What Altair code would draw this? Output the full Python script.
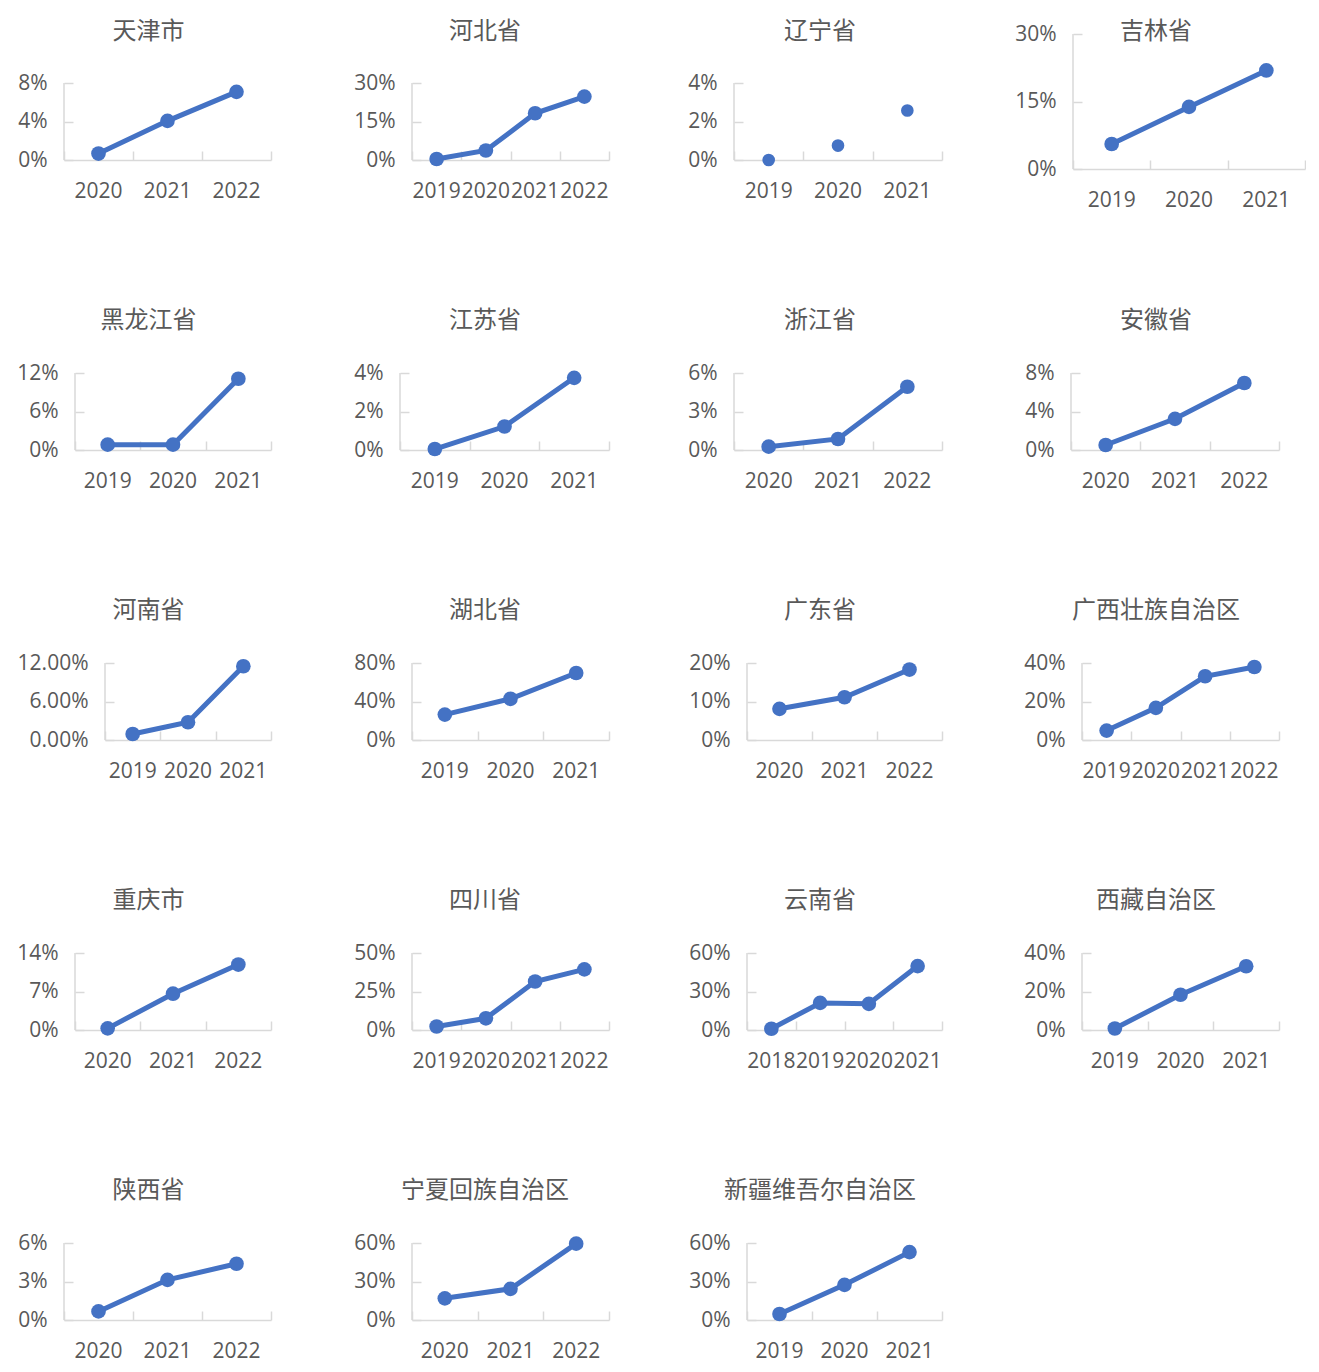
import altair as alt
import pandas as pd

# ---------------- data ----------------
PROVINCES = ["天津市", "河北省", "辽宁省", "吉林省",
             "黑龙江省", "江苏省", "浙江省", "安徽省",
             "河南省", "湖北省", "广东省", "广西壮族自治区",
             "重庆市", "四川省", "云南省", "西藏自治区",
             "陕西省", "宁夏回族自治区", "新疆维吾尔自治区"]

YEARS = [
    ["2020", "2021", "2022"], ["2019", "2020", "2021", "2022"], ["2019", "2020", "2021"], ["2019", "2020", "2021"],
    ["2019", "2020", "2021"], ["2019", "2020", "2021"], ["2020", "2021", "2022"], ["2020", "2021", "2022"],
    ["2019", "2020", "2021"], ["2019", "2020", "2021"], ["2020", "2021", "2022"], ["2019", "2020", "2021", "2022"],
    ["2020", "2021", "2022"], ["2019", "2020", "2021", "2022"], ["2018", "2019", "2020", "2021"], ["2019", "2020", "2021"],
    ["2020", "2021", "2022"], ["2020", "2021", "2022"], ["2019", "2020", "2021"],
]

GROWTH_PCT = [
    [0.67, 4.07, 7.08], [0.4, 3.7, 18.2, 24.7], [0.0, 0.75, 2.57], [5.55, 13.8, 21.9],
    [0.83, 0.83, 11.1], [0.05, 1.22, 3.75], [0.26, 0.86, 4.93], [0.52, 3.24, 6.96],
    [0.94, 2.76, 11.49], [26.4, 42.8, 69.6], [8.1, 11.1, 18.3], [4.9, 16.7, 33.1, 37.9],
    [0.3, 6.6, 11.9], [2.3, 7.6, 31.5, 39.4], [1.0, 21.1, 20.4, 49.8], [0.8, 18.3, 33.1],
    [0.67, 3.13, 4.38], [16.9, 24.3, 59.5], [4.7, 27.4, 52.9],
]

AXIS_TICKS_PCT = [
    [0, 4, 8], [0, 15, 30], [0, 2, 4], [0, 15, 30],
    [0, 6, 12], [0, 2, 4], [0, 3, 6], [0, 4, 8],
    [0, 6, 12], [0, 40, 80], [0, 10, 20], [0, 20, 40],
    [0, 7, 14], [0, 25, 50], [0, 30, 60], [0, 20, 40],
    [0, 3, 6], [0, 30, 60], [0, 30, 60],
]

TICK_FORMAT = [".0%"] * 8 + [".2%"] + [".0%"] * 10
SHOW_LINE = [True, True, False, True] + [True] * 15

# ---------------- layout / style ----------------
ROW_PANELS = [[0, 1, 2, 3], [4, 5, 6, 7], [8, 9, 10, 11], [12, 13, 14, 15], [16, 17, 18]]
PLOT_LEFT = [[64, 412, 734, 1073], [75, 400, 734, 1071], [105, 412, 747, 1082],
             [75, 412, 747, 1082], [64, 412, 747]]
PLOT_RIGHT = [[271, 609, 942, 1305], [271, 609, 942, 1279], [271, 609, 942, 1279],
              [271, 609, 942, 1279], [271, 609, 942]]
TITLE_CX = [148.5, 485, 820, 1156]

FONT_CJK = "Noto Sans CJK SC"
FONT_NUM = "Open Sans"
TEXT = "#595959"
GRID = "#D9D9D9"
BLUE = "#4472C4"
LABEL_SIZE = 21
TITLE_SIZE = 24


def make_panel(idx, width, height, vis_h, left_ext, bottom_ext, dx, toff):
    years = YEARS[idx]
    vals = [v / 100 for v in GROWTH_PCT[idx]]
    ticks = [t / 100 for t in AXIS_TICKS_PCT[idx]]
    top = ticks[-1]
    df = pd.DataFrame({"year": years, "rate": vals})

    xs = alt.Scale(type="band", domain=years, paddingInner=0, paddingOuter=0)
    ys = alt.Scale(type="linear", domain=[0, top * height / vis_h], nice=False, zero=False)

    x_labels = alt.Axis(orient="bottom", title=None, domain=False, ticks=False, tickSize=0,
                        grid=False, labelPadding=31, labelBaseline="middle", labelAngle=0,
                        labelFont=FONT_NUM, labelFontSize=LABEL_SIZE, labelColor=TEXT,
                        labelOverlap=False, labelFlush=False,
                        minExtent=bottom_ext, maxExtent=bottom_ext)
    y_labels = alt.Axis(orient="left", title=None, domain=False, ticks=False, tickSize=0,
                        grid=False, values=ticks, format=TICK_FORMAT[idx], labelPadding=17,
                        labelFont=FONT_NUM, labelFontSize=LABEL_SIZE, labelColor=TEXT,
                        labelOverlap=False, labelFlush=False,
                        minExtent=left_ext, maxExtent=left_ext)
    x_ticks = alt.Axis(orient="top", offset=-height, title=None, labels=False, grid=False,
                       domain=True, domainColor=GRID, domainWidth=1.5,
                       ticks=True, tickSize=9, tickColor=GRID, tickWidth=1.5,
                       tickBand="extent", minExtent=0, maxExtent=0)
    y_ticks = alt.Axis(orient="right", offset=-width, title=None, labels=False, grid=False,
                       domain=False, values=ticks,
                       ticks=True, tickSize=9, tickColor=GRID, tickWidth=1.5,
                       minExtent=0, maxExtent=0)

    line = alt.Chart(df).mark_line(color=BLUE, strokeWidth=5,
                                   opacity=1 if SHOW_LINE[idx] else 0).encode(
        x=alt.X("year:N", scale=xs, axis=x_labels, sort=None),
        y=alt.Y("rate:Q", scale=ys, axis=y_labels),
    )
    pts = alt.Chart(df).mark_circle(color=BLUE, opacity=1,
                                    size=215 if SHOW_LINE[idx] else 160).encode(
        x=alt.X("year:N", scale=xs, axis=x_ticks, sort=None),
        y=alt.Y("rate:Q", scale=ys, axis=y_ticks),
    )
    yline = alt.Chart(pd.DataFrame({"lo": [ticks[0]], "hi": [top]})).mark_rule(
        color=GRID, strokeWidth=1.5).encode(
        x=alt.value(0),
        y=alt.Y("lo:Q", scale=ys, axis=None),
        y2="hi:Q",
    )
    return alt.layer(yline, line, pts).resolve_axis(x="independent", y="independent").properties(
        width=width, height=height,
        title=alt.TitleParams(text=PROVINCES[idx], anchor="middle", frame="group", dx=dx,
                              offset=toff, font=FONT_CJK, fontSize=TITLE_SIZE,
                              fontWeight="normal", color=TEXT),
    )


rows = []
for r, panels in enumerate(ROW_PANELS):
    spacer = alt.Chart(pd.DataFrame({"a": []})).mark_point(opacity=0).properties(width=1, height=1)
    items = [spacer]
    prev_right = 9
    for c, idx in enumerate(panels):
        left = PLOT_LEFT[r][c]
        right = PLOT_RIGHT[r][c]
        width = right - left
        left_ext = left - prev_right - (1 if c > 0 else 0)
        prev_right = right
        if r == 0:
            if idx == 3:
                height, vis_h, bext, toff = 135, 135, 43.5, -21
            else:
                height, vis_h, bext, toff = 126, 77, 52, -10
        else:
            height, vis_h, bext, toff = 77, 77, 53, 29.5
        dx = TITLE_CX[c] - (left + right) / 2
        items.append(make_panel(idx, width, height, vis_h, left_ext, bext, dx, toff))
    rows.append(alt.hconcat(*items, spacing=0))

chart = alt.vconcat(*rows, spacing=95).properties(
    padding={"left": 0, "top": 12, "right": 0, "bottom": 0},
    background="white",
).configure_view(stroke=None)

chart.save("out.html", embed_options={"renderer": "svg", "actions": False})
